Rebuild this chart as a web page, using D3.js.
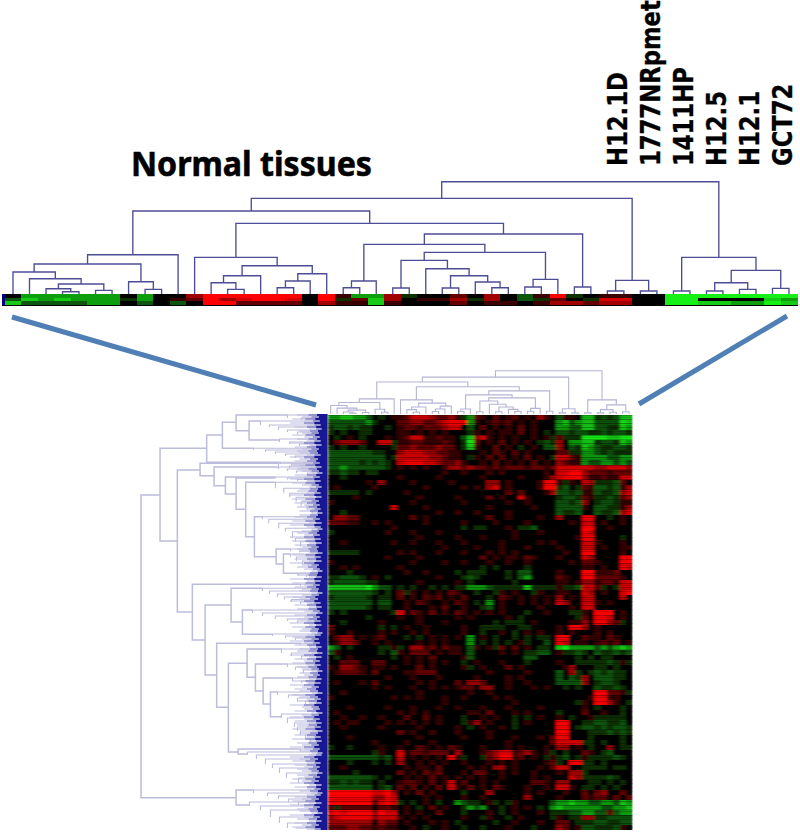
<!DOCTYPE html>
<html>
<head>
<meta charset="utf-8">
<script src="https://cdn.jsdelivr.net/npm/d3@7"></script>
<style>html,body{margin:0;padding:0;background:#fff}svg{display:block}</style>
</head>
<body>
<svg id="chart" width="800" height="834"></svg>
<script>
// Sample labels over the six right-hand columns
const sampleLabels = ["H12.1D","1777NRpmet","1411HP","H12.5","H12.1","GCT72"];
const sampleLabelColumns = [36.6,38.6,40.6,42.6,44.6,46.6];
const headline = "Normal tissues";

// Sample tree: [merge height, left, right]; 0 is a leaf column
const sampleTree = [112.3,
 [95.7,
  [83,
   [39.3,
    [30,
     [22,0,[15.3,0,[10,[5.3,0,[2.3,0,0]],[3.7,0,0]]]],
     [12.3,0,[4.7,0,0]]],
    0],
   [70.7,
    [36.7,0,[28.3,
      [18.3,[11.3,0,[4.7,0,0]],0],
      [20.3,[13,[6.3,0,0],0],0]]],
    [60,
     [49.7,
      [13,[6.3,0,0],0],
      [41.7,
       [33.7,[6,0,0],[25.3,0,[18.3,[6,0,0],[12,0,[6.3,0,0]]]]],
       [14.7,[7,0,0],0]]],
     [7,0,0]]]],
  [13.7,[3,0,0],[3,0,0]]],
 [36.7,
  [3,0,0],
  [23.7,[11.3,[3,0,0],[4.7,0,0]],[5.7,0,0]]]];

// Expression levels: . = 0, 1-5 red, a-e green
const stripRows = [
 ". cccccc . c . . 3 555555 . 5 1 c c 3 a . . 2 . 3 . b 1 5 a . 1 1 . . e e e e e e e e",
 "b dcdccc a c . 1 2 534554 . 5 a 2 d 3 . 1 1 3 a 3 . b a 2 . a 4 4 . . e e . . . . d c",
 "d bbbbcc . b . b . 552222 . 3 1 1 d 1 . . . 2 . 1 1 . 1 3 3 2 3 3 . . e e d d c c e d"];

const heatRows = [
 "ccddccb .a.1 124443223 1ac 21.2.12.1.31. b1 1. dd abab dd",
 "bbbbbbc a... 223322345 55c 1.1212.1.1... cd bc dd bbbb ed",
 "abbabaa ..a. 122122234 4.b .2.1.1.2.1... cc bb dd bbaa dc",
 "a.a..aa .... 11.1.1.1. ..a 1.1.11.2.1.a. bb ab ba abab ba",
 ".a.1.a. ..1. 124411211 .bd 341.1.1..1.1a 2a aa ee eedd ee",
 ".23332. .44a 112211121 .ae 2.1.2.1.1.aba 3. cc dd abba dc",
 "a.a..a. ...a 223222322 .ad 1..2.1.a.1.bb 3. ba dc baab ba",
 "bbbbbbb aa.. 344433221 1.. .1.21.2.1.... 22 aa cc baba aa",
 "bbbbbbb bb.a 444443321 1.a 1.2.2.1.2.1.a 44 21 cc ccbb cc",
 "bbbbbab aba. 455544322 31. .1.2.1.1.2.1. 32 11 cb bccb cb",
 "bbcbbbb bba. 1.1.1..13 323 2212122212212 44 44 44 3344 43",
 "aabaa.a a... .......1. .1. ..1.1......1. 44 55 32 2212 22",
 "..a.... .... 1.....1.. ... .1.....1...13 45 55 31 1211 44",
 "......1 .3.. ..1.....1 ... ..33.1....155 1a 1. 43 aaab 2.",
 ".1..... 1... ....1.... .1. 1.34.1....155 ab .a 21 bbab 13",
 "aaaaa.a .... .1....... ... .....2.2...13 bb ab 11 baab 34",
 "....1.. .... ...1..... 1.. ..2.1..41.... ab ba 21 aaba 23",
 "1...... .... ..1...... .1. .....1..1.... bb ab 3. abba 11",
 "....... ...4 ....1.... ... ..1......1... bb bb 1. bbaa 13",
 "..a.... .... ......1.. 1.. 1....1....... ba ab .. baab 34",
 ".3322.. .... ..2.1.... ... ..2..1....1.. 3. .. 55 ..a. 1.",
 "22211.. 1.1. ....1.... .1. ...1....1.... .. 1. 44 .1.. 1.",
 "....... ...1 ......... .a. aa...1.aab... .. .. 55 ..1. ..",
 "a...... ..1. ..1...1.. ... ......1...1.. .. .. 54 .... ..",
 "....... .... ...1..... 1.. .1....1...... .. .1 55 .... a.",
 "..1.... ...1 ..1...1.. .1. ....1.....1.1 .. .. 44 1... 1.",
 "....... .... .......1. ... 1...1...1.... 1. .. 44 .1.. 11",
 "aaaaa.. .... 1.1...1.. .1. ..1.1.1...... .1 .. 55 .... 1.",
 "....... ..1. ...1..... ... .2.1.11.21... 1. .. 43 .... 55",
 "1...... .... ..1....1. .1. ..1..1..1.... .. 1. 22 1... 55",
 "..1.1.. .... 1........ ... .a.a....a.... .. .. 11 .1.. 54",
 "...a... .... .1..1.... a.a aa...a.bb.... 1. .. 55 1112 ..",
 "aabbba. 1.a. ......1.. .ab a....a.bc.... 21 .. 55 2222 1.",
 "abbbbba a... ...1..... 1.a ......a...... 11 .1 33 1221 44",
 "dddddde cbb. a.a..a.a. aac ccbaaaaadaaaa 1a ab 44 2a.a 44",
 "bbbbbbb a.a. 2a1.1.1.2 1.. a..a1.1..a1.. 11 .. 43 .1.. 45",
 "abbbbba .aa. 2.1.212.1 .2. ..a.21.1.1.1. 3. 1. 44 .... 4.",
 "bbbbbbb .bb. .1.21..1. 21. a.c.1..1.1.1. 43 .. 44 1.1. ..",
 "bbbbbba .aa. .1...1.2. .1. .ab.1.....1.. .. 1. 44 .... ..",
 "a.a.... ...a 4.21.2.1. 21. 1.1.1...a..1. .. aa 1. 555. 1.",
 "......a .... 1..1..... 1.1 .....1.a..... .. .a 2. 554. 1.",
 "..a.... .1.. ...1...1. ... ...a.aaa.1... .. 11 3. 5532 a.",
 "2...... .a.a .1..1.... .1. .aaaa..aa.... 1. 55 3. 1... ..",
 "1..1... .1.1 ..1.1.... .1. .a..1.a.1.1.. 1. 1. .. 1.1. ..",
 ".233.1. 12.. .a.a.1.1. 1.c .1.a..a.a.aa. 55 .. 21 1.21 ..",
 ".1332.. 1.1. ...1.1.1. ..c .a.a.a.1a..b. 54 .1 1. 1212 .1",
 "cb.a... .aa1 a.3312.21 1.b 1.1a2.2.1.aa. de cc cc bcbc dc",
 "b1..... .a.b 1.222.1.1 1.b ....1.1.aabb. 1a ab a. baab ab",
 ".a.1... ...a .1.1.2... .1b ........bb... .. .a .a .aa. ..",
 "..222.. 22.. .1.1.1.1. .a. 1...1...a.... 1. .a aa aaba 1a",
 "1.3321. 11.1 ...2.1... .1a .1...2.1..... .1 3. .. aa.a ..",
 ".12221. 2... .11222... ... ..1.....1.... b. 3a .a baba a.",
 "....... ..1. ..1...1.. ... 1....1.1..... b. ba 3. bbba a.",
 ".1...1. 2... ...1.1... 2.3 32...1..1.... bb bb 3. abba ..",
 "....... 1.1. ..1..1.1. 122 .33..1...1.1. .a .a .. baab a.",
 "..1.... .... ...1..... ..1 ..1.......... .. .. .. 5522 1a",
 "1...... ...1 .1.1...1. .1. ...1.1....... .. .. .1 5511 ..",
 "....... .... .......1. ... ......1...... .. .a 1. 5531 .a",
 "...1... ..1. ..1...1.. 1.. .1...1....1.. .. .. 1. a... a.",
 ".1..... .... 1.1.1.... ..1 1.2...1.1.... a. .. 2. .1.. a.",
 "..1..1. .1.. .2..2.1.. .a. .1.1..a.a.1.. 1. a. .1 aaaa a.",
 ".1.11.. ..1. 1.1.1.1.. .a1 3.1...a.1.... 55 .. aa bbaa b.",
 "..1.... .1.. ...1..... 1.a .1..1.a...... 55 .a bb abab ba",
 "....... .... 2.1..1... 1.. ..1.......... 55 .. .a aaba ba",
 "...1... .... ...1..... .1. ..1...1...1.2 55 .. .a .... a.",
 "....... 1... .1...1... ... .....1......2 44 44 aa .a.. a.",
 "a..a... .1.. 1..21.1.2 1.. .1...1.1...1. 33 .1 .a ..3. aa",
 "....... a1.. 4.221222. 3.. .123441231.1a .a .. 21 .ab. ..",
 "bbbbbbb bab. 4.1.1.1.5 1a. .a235512.1.a1 ab .a 1a aaab a.",
 "...a... a.a. 3..1.1.1. .1. ..1.1.1....12 a. 55 aa .a.. ..",
 "..1.... .... .1.11.2.. ..1 .1.33.1...1.2 44 .. aa aa.a a.",
 "....a.. .... 2.1.212.. .1. 22..1.1..1... 1. 33 a. .... ..",
 "bbbbbbb a.a. .1.1.2.1. 1.1 .1..1....1.1. .. 43 aa aaba ..",
 "aababaa .a.. 1221.2.14 .2. .1.1.....221. 33 .. .a a.a. a.",
 "bbbbbbb .ab. 2.2.1.2.4 1.2 .1.21...1..1. 44 1. aa .a.a ..",
 "5555555 4453 .1.2.1... .a. ..3.....1.1.. .1 .. 2. 23.. 2.",
 "5555555 3354 ....1.1.. .1. .1......3.... 1. .. 21 22.2 .2",
 "5555555 2454 a.a.1.a.. cba a.1a.a1.....b cc dc cb bccb dc",
 "2a22222 .221 .1.a.2.1. .ac bc..a.1.1.a.c dc cc cc cbbc cd",
 "4545555 3544 .1.1..2.. .a. ..1.a.1...1.a aa bb cc bb2b cc",
 "3455555 3444 1.1.1.... .1. .a1..a.1....a 1. aa 33 aabb bb",
 "3333333 .322 .1...1.1. a.. ...a..1...1.. 22 .a aa bbaa bb",
 "2223322 1211 ..1.a..1. .a. .a...1...a... 32 .1 bb aaab 1."];

// Gene tree, major merges: [height, row above, child height, row below, child height]
const geneMerges = [
 [186.3,80,167.3,382.7,91.3],
 [167.3,33.3,120.7,126,150],
 [120.7,20,105,47.3,47],
 [105,7.3,91.3,33.3,74],
 [91.3,0,40,15.7,78.3],
 [78.3,6,67,25,48],
 [150,55,127.3,197,135],
 [127.3,48.3,49,60.7,113.3],
 [113.3,52,49,70.7,102],
 [102,62,52,79,91.3],
 [91.3,63,52,94.3,81.7],
 [81.7,67.3,52,121.7,73],
 [73,101.7,65,141.7,51.3],
 [51.3,134,37,149,44],
 [44,139,37,158.3,29],
 [135,169.3,27,225,122.3],
 [122.3,190,96.3,260,110.7],
 [96.3,173.3,65,207,85],
 [85,195,75,219.3,55],
 [110.7,228.3,27,292.3,99],
 [99,248.3,80.3,337,89.3],
 [80.3,234,46,262.3,72],
 [72,249,40,276,64.3],
 [64.3,263,35,289,57],
 [57,277,50,301.7,46],
 [89.3,334,27,339,80],
 [91.3,375,74,390,78]];

// Gene tree, staircases of small merges: [height, row]
const geneStairs = [
 [[40,0],[26,3],[15,5]],
 [[67,6],[58,10],[49,12],[40,15],[30,17],[20,19],[12,20]],
 [[48,24],[38,27],[28,29],[16,31]],
 [[74,33.3],[62,35],[52,37],[42,39],[32,41],[22,43],[12,45]],
 [[47,47.3],[36,49],[28,50.5]],
 [[49,48.3],[38,51],[27,53]],
 [[49,52],[40,54],[31,56],[20,58],[10,60]],
 [[52,62],[40,63],[30,64.5],[20,66]],
 [[52,67.3],[43.7,73.3],[37.7,78.3],[31.3,82.3],[26.3,86.7],[20.3,91],[15.3,94.3],[10.3,98.3]],
 [[65,101.7],[58.7,104.3],[48.7,108.3],[42,113.3],[35,116.7],[32,123.3],[27,126.7],[20,131.7]],
 [[37,134],[28,136],[18,137.5]],
 [[37,139],[31,142],[25,146],[19,149],[12,153]],
 [[29,158.3],[21,160],[12,162]],
 [[27,169.3],[18,171],[10,172]],
 [[65,173.3],[58,176],[50,179],[43,182],[36,184.5],[27,187],[18,189]],
 [[75,195],[65,198],[52,201],[40,204],[30,206],[20,208]],
 [[55,219],[42,221],[32,223],[20,225]],
 [[27,228.3],[18,230],[10,232]],
 [[46,234],[36,238],[26,241],[14,244]],
 [[40,249],[32,252],[24,255],[14,258]],
 [[35,263],[26,266],[18,268],[10,270]],
 [[50,277],[39,280],[30,283],[22,286],[13,289]],
 [[46,299],[40,303],[33,308],[30,312],[27,316],[22,320],[17,324],[12,328]],
 [[27,334],[17,336]],
 [[80,337],[71,340],[62,344],[55,349],[48,353],[41,358],[29,363],[20,368]],
 [[74,375],[60,378],[49,381],[39,384],[29,387],[19,390]],
 [[78,387],[67,391],[57,395],[48,402],[40,408],[32,413]]];

// Fine leaves along the heatmap edge, one digit per two gene rows
const leafDepth = "64839271548362917465295738164073928415629184736250"
 + "57381920463928174650827194630561928374504859271630"
 + "73629184502849371560917382640536182947508526194370"
 + "49371628057281649350195827364063849172502748193650"
 + "93617482";

const blueLinks = [[12,317,316,405],[787,316,639,404]];

// ---------- drawing ----------
const svg = d3.select("#chart");
const defs = svg.append("defs");
defs.append("filter").attr("id","soft").attr("x","-2%").attr("y","-2%").attr("width","104%").attr("height","104%")
  .append("feGaussianBlur").attr("stdDeviation","1.6 0.6");
defs.append("filter").attr("id","softStrip").attr("x","-2%").attr("y","-20%").attr("width","104%").attr("height","140%")
  .append("feGaussianBlur").attr("stdDeviation","0.6 0.35");

const level = d3.scaleOrdinal()
  .domain([".","1","2","3","4","5","a","b","c","d","e"])
  .range([0,1.05,1.9,3.1,4.2,5,-1.05,-1.8,-3.3,-4.2,-5]);
const colour = d3.scaleLinear().domain([-5,0,5]).range(["#16f016","#040000","#ff0000"]);
const parseRow = s => Array.from(s.replace(/ /g,""));

function drawHeat(g, rows, x, y){
  rows.forEach((row,r)=>{
    g.selectAll(null).data(parseRow(row)).enter().append("rect")
      .attr("x",(d,c)=>x(c)).attr("y",y(r))
      .attr("width",x.bandwidth()+0.4).attr("height",y.bandwidth()+0.4)
      .attr("fill",d=>colour(level(d)));
  });
}

const gy = d3.scaleLinear().domain([0,415]).range([415,830]);
const depths = Array.from(leafDepth).map(Number);

// heatmaps
const heatClip = defs.append("clipPath").attr("id","heatClip");
heatClip.append("rect").attr("x",327.5).attr("y",415).attr("width",305).attr("height",415);
const heatG = svg.append("g").attr("clip-path","url(#heatClip)").append("g").attr("filter","url(#soft)").attr("shape-rendering","crispEdges");
drawHeat(heatG, heatRows,
  d3.scaleBand().domain(d3.range(48)).range([327.5,632.5]),
  d3.scaleBand().domain(d3.range(heatRows.length)).range([415,830]));
// row-to-row streaks of the gene rows
svg.append("g").selectAll("rect").data(depths).enter().append("rect")
  .attr("x",327.5).attr("width",305).attr("y",(d,i)=>gy(i*2)).attr("height",1.2)
  .attr("fill","#000").attr("opacity",d=>d*0.045);

const stripG = svg.append("g").attr("filter","url(#softStrip)").attr("shape-rendering","crispEdges");
stripG.append("rect").attr("x",2).attr("y",294).attr("width",796).attr("height",11.5).attr("fill","#050505");
stripG.append("rect").attr("x",2).attr("y",294).attr("width",3).attr("height",11).attr("fill","#000080");
drawHeat(stripG, stripRows,
  d3.scaleBand().domain(d3.range(48)).range([4.7,797.2]),
  d3.scaleBand().domain(d3.range(3)).range([294,304.5]));

// sample trees
function drawSampleTree(xRange, yRange, stroke, width){
  const root = d3.hierarchy(sampleTree, d => Array.isArray(d) ? d.slice(1) : null);
  const px = d3.scalePoint().domain(d3.range(48)).range(xRange);
  const py = d3.scaleLinear().domain([0,sampleTree[0]]).range(yRange);
  let leafIndex = 0;
  root.eachAfter(n=>{
    n.h = Array.isArray(n.data) ? n.data[0] : 0;
    n.px = n.children ? d3.mean(n.children,c=>c.px) : px(leafIndex++);
  });
  const line = d3.line();
  svg.append("g").selectAll("path")
    .data(root.descendants().filter(n=>n.children))
    .enter().append("path")
    .attr("fill","none").attr("stroke",stroke).attr("stroke-width",width)
    .attr("d",n=>line([
      [n.children[0].px,py(n.children[0].h)],
      [n.children[0].px,py(n.h)],
      [n.children[1].px,py(n.h)],
      [n.children[1].px,py(n.children[1].h)]]));
}
drawSampleTree([13,789],[294,181.7],"#4d4d96",1.35);
drawSampleTree([330.7,629],[414,370.7],"#b4b4d4",1.1);

// gene tree
const gx = d3.scaleLinear().domain([0,186.3]).range([327.5,141]);
const geneStroke = "#bcbcdc";
const geneG = svg.append("g").attr("fill","none");
const gline = d3.line().x(d=>gx(d[0])).y(d=>gy(d[1]));

// lavender leaf fringe, a mid-blue layer, then navy tips
geneG.append("g").selectAll("path").data(depths).enter().append("path")
  .attr("stroke","#bcbce2").attr("stroke-width",1.1)
  .attr("d",(d,i)=>gline([[0,i*2],[16+d*2.4,i*2]]));
geneStairs.forEach(stair=>{
  geneG.append("g").selectAll("path").data(stair).enter().append("path")
    .attr("stroke",geneStroke).attr("stroke-width",1.1)
    .attr("d",(d,i)=>{
      const next = stair[i+1];
      const seg = [[3,d[1]],[d[0],d[1]]];
      if(next) seg.push([d[0],next[1]]);
      return gline(seg);
    });
});
geneG.append("g").selectAll("path").data(geneMerges).enter().append("path")
  .attr("stroke",geneStroke).attr("stroke-width",1.5)
  .attr("d",d=>gline([[d[2],d[1]],[d[0],d[1]],[d[0],d[3]],[d[4],d[3]]]));
geneG.append("g").selectAll("path").data(depths).enter().append("path")
  .attr("stroke","#6a6abc").attr("stroke-width",1.1)
  .attr("d",(d,i)=>gline([[0,i*2],[10+d*1.5,i*2]]));
geneG.append("g").selectAll("path").data(depths).enter().append("path")
  .attr("stroke","#00008c").attr("stroke-width",1.7)
  .attr("d",(d,i)=>gline([[0,i*2],[5+d*0.9,i*2]]));

// blue connector lines
svg.append("g").selectAll("line").data(blueLinks).enter().append("line")
  .attr("x1",d=>d[0]).attr("y1",d=>d[1]).attr("x2",d=>d[2]).attr("y2",d=>d[3])
  .attr("stroke","#4f7fb5").attr("stroke-width",5);

// text
svg.append("text").text(headline).attr("x",131).attr("y",175.5)
  .attr("font-family","'Noto Sans',sans-serif").attr("font-weight",700).attr("font-size",33.5)
  .attr("textLength",241).attr("lengthAdjust","spacingAndGlyphs").attr("fill","#000")
  .attr("stroke","#000").attr("stroke-width",0.6);
const labelX = d3.scaleLinear().domain([0,47]).range([13,789]);
svg.append("g").selectAll("text").data(sampleLabels).enter().append("text")
  .text(d=>d)
  .attr("transform",(d,i)=>`translate(${labelX(sampleLabelColumns[i])+10},166) rotate(-90) scale(1,1.16)`)
  .attr("font-family","'DejaVu Sans',sans-serif").attr("font-weight",700).attr("font-size",22.7)
  .attr("fill","#000").attr("stroke","#000").attr("stroke-width",0.3);
</script>
</body>
</html>
